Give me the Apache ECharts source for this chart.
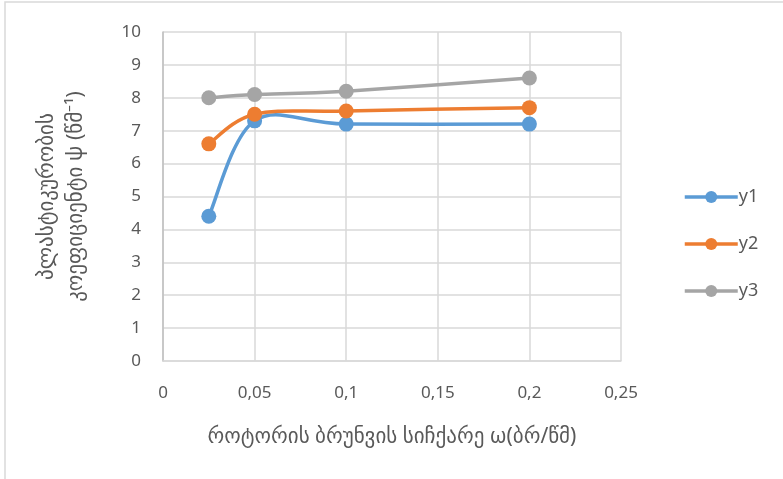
<!DOCTYPE html>
<html><head><meta charset="utf-8">
<script src="https://cdn.jsdelivr.net/npm/echarts@6/dist/echarts.min.js"></script>
<style>html,body{margin:0;padding:0;background:#fff}#c{width:783px;height:479px}</style>
</head><body><div id="c"></div>
<script>
const xValues = [0.025, 0.05, 0.1, 0.2];
const y1 = [4.4, 7.3, 7.2, 7.2];
const y2 = [6.6, 7.5, 7.6, 7.7];
const y3 = [8.0, 8.1, 8.2, 8.6];
const seriesNames = ['y1', 'y2', 'y3'];
const colors = ['#5B9BD5', '#ED7D31', '#A5A5A5'];
const xTitle = 'როტორის ბრუნვის სიჩქარე ω(ბრ/წმ)';
const yTitle = 'პლასტიკურობის\nკოეფიციენტი ψ (წმ⁻¹)';

const font = "'Noto Sans', 'DejaVu Sans', sans-serif";
const chart = echarts.init(document.getElementById('c'));
const LW = 3.5;

// Excel-style smoothed curve (Catmull-Rom Bezier) drawn through the library's coordinate system
function curveSeries(vals, color, z) {
  return {
    type: 'custom', silent: true, z,
    data: xValues.map((x, i) => [x, vals[i]]),
    renderItem: function (params, api) {
      if (params.dataIndex !== 0) return null;
      const P = xValues.map((x, i) => api.coord([x, vals[i]]));
      const n = P.length;
      let d = 'M' + P[0][0] + ' ' + P[0][1];
      for (let i = 0; i < n - 1; i++) {
        const p0 = P[Math.max(i - 1, 0)], p1 = P[i], p2 = P[i + 1], p3 = P[Math.min(i + 2, n - 1)];
        const c1 = [p1[0] + (p2[0] - p0[0]) / 6, p1[1] + (p2[1] - p0[1]) / 6];
        const c2 = [p2[0] - (p3[0] - p1[0]) / 6, p2[1] - (p3[1] - p1[1]) / 6];
        d += ' C' + c1[0] + ' ' + c1[1] + ' ' + c2[0] + ' ' + c2[1] + ' ' + p2[0] + ' ' + p2[1];
      }
      return { type: 'path', shape: { pathData: d }, style: { fill: 'none', stroke: color, lineWidth: LW, lineCap: 'round', lineJoin: 'round' } };
    }
  };
}
const markerSeries = (name, vals, color, z) => ({
  name, type: 'line', z,
  data: xValues.map((x, i) => [x, vals[i]]),
  symbol: 'circle', symbolSize: 15,
  lineStyle: { color, width: LW, opacity: 0 },
  itemStyle: { color },
  emphasis: { disabled: true }
});
const series = [];
[y1, y2, y3].forEach((vals, k) => {
  series.push(curveSeries(vals, colors[k], 2 + k * 2));
  series.push(markerSeries(seriesNames[k], vals, colors[k], 3 + k * 2));
});

chart.setOption({
  animation: false,
  graphic: [{ type: 'rect', shape: { x: 5, y: 2, width: 800, height: 500 }, style: { fill: 'none', stroke: '#d9d9d9', lineWidth: 1.5 }, silent: true }],
  grid: { left: 163, right: 162, top: 32, bottom: 118 },
  legend: {
    orient: 'vertical', left: 678, top: 183, itemGap: 29,
    itemWidth: 53, itemHeight: 15,
    lineStyle: { opacity: 1, width: LW },
    textStyle: { color: '#595959', fontSize: 18, fontFamily: font, padding: [0, 0, 0, -4] },
    data: seriesNames
  },
  xAxis: {
    type: 'value', min: 0, max: 0.25, interval: 0.05,
    name: xTitle, nameLocation: 'middle', nameGap: 66,
    nameTextStyle: { color: '#595959', fontSize: 21, fontFamily: font },
    axisLine: { show: true, lineStyle: { color: '#d9d9d9', width: 1.5 } },
    axisTick: { show: false },
    axisLabel: { color: '#595959', fontSize: 17, fontFamily: font, margin: 24,
      formatter: v => String(+v.toFixed(2)).replace('.', ',') },
    splitLine: { show: true, lineStyle: { color: '#d9d9d9', width: 1.5 } }
  },
  yAxis: {
    type: 'value', min: 0, max: 10, interval: 1,
    name: yTitle, nameLocation: 'middle', nameGap: 72, nameRotate: 90,
    nameTextStyle: { color: '#595959', fontSize: 21, fontFamily: font, lineHeight: 29 },
    axisLine: { show: true, lineStyle: { color: '#bfbfbf', width: 1.5 } },
    axisTick: { show: false },
    axisLabel: { color: '#595959', fontSize: 17, fontFamily: font, margin: 22 },
    splitLine: { show: true, lineStyle: { color: '#d9d9d9', width: 1.5 } }
  },
  series
});
</script></body></html>
